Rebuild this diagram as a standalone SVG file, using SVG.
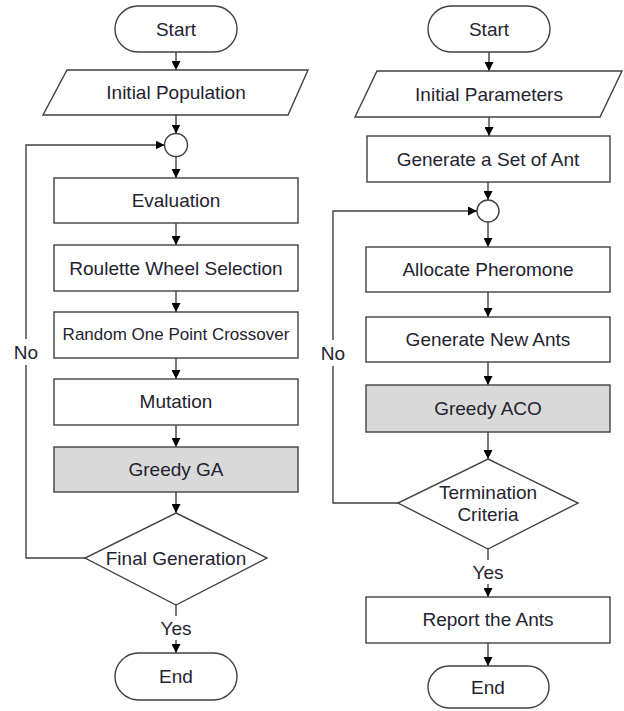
<svg xmlns="http://www.w3.org/2000/svg" width="624" height="711" viewBox="0 0 624 711">
<defs>
<marker id="ah" markerUnits="userSpaceOnUse" markerWidth="9" markerHeight="9" refX="9" refY="4.5" orient="auto">
<path d="M0,0 L9,4.5 L0,9 z" fill="#000"/>
</marker>
<style>
.s{fill:#fff;stroke:#404040;stroke-width:1.4}
.g{fill:#d9d9d9;stroke:#404040;stroke-width:1.4}
.t{font-family:"Liberation Sans",Arial,sans-serif;font-size:19px;fill:#1f2330;text-anchor:middle;dominant-baseline:central}
.c{fill:none;stroke:#404040;stroke-width:1.4}
</style>
</defs>
<rect width="624" height="711" fill="#fff"/>
<g id="connectors">
<path class="c" d="M176,52 V70" marker-end="url(#ah)"/>
<path class="c" d="M176,115 V133.5" marker-end="url(#ah)"/>
<path class="c" d="M176,156.5 V178" marker-end="url(#ah)"/>
<path class="c" d="M176,223 V245" marker-end="url(#ah)"/>
<path class="c" d="M176,291 V312" marker-end="url(#ah)"/>
<path class="c" d="M176,358 V379" marker-end="url(#ah)"/>
<path class="c" d="M176,425 V447" marker-end="url(#ah)"/>
<path class="c" d="M176,492 V513" marker-end="url(#ah)"/>
<path class="c" d="M176,605 V616"/>
<path class="c" d="M176,640 V653" marker-end="url(#ah)"/>
<path class="c" d="M85,558 H26 V365"/>
<path class="c" d="M26,339 V145 H164.5" marker-end="url(#ah)"/>
<text class="t" x="26" y="352">No</text>
<text class="t" x="176" y="628">Yes</text>
<path class="c" d="M489,52 V71" marker-end="url(#ah)"/>
<path class="c" d="M489,117 V136" marker-end="url(#ah)"/>
<path class="c" d="M488,182 V200" marker-end="url(#ah)"/>
<path class="c" d="M488,222 V247" marker-end="url(#ah)"/>
<path class="c" d="M488,292 V317" marker-end="url(#ah)"/>
<path class="c" d="M488,362 V385" marker-end="url(#ah)"/>
<path class="c" d="M488,432 V459" marker-end="url(#ah)"/>
<path class="c" d="M488,549 V560"/>
<path class="c" d="M488,584 V597" marker-end="url(#ah)"/>
<path class="c" d="M488,643 V666" marker-end="url(#ah)"/>
<path class="c" d="M398,503 H333 V366"/>
<path class="c" d="M333,340 V211 H477" marker-end="url(#ah)"/>
<text class="t" x="333" y="353">No</text>
<text class="t" x="488" y="572">Yes</text>
</g>
<g id="ga-start"><rect class="s" x="115" y="6" width="122" height="46" rx="23"/><text class="t" x="176" y="29">Start</text></g>
<g id="ga-init"><polygon class="s" points="67,70 308,70 288,115 43,115"/><text class="t" x="176" y="92">Initial Population</text></g>
<g id="ga-merge"><circle class="s" cx="176" cy="145" r="11.5"/></g>
<g id="ga-eval"><rect class="s" x="54" y="178" width="244" height="45"/><text class="t" x="176" y="200">Evaluation</text></g>
<g id="ga-select"><rect class="s" x="54" y="245" width="244" height="46"/><text class="t" x="176" y="268">Roulette Wheel Selection</text></g>
<g id="ga-cross"><rect class="s" x="54" y="312" width="244" height="46"/><text class="t" x="176" y="334" style="font-size:17px">Random One Point Crossover</text></g>
<g id="ga-mut"><rect class="s" x="54" y="379" width="244" height="46"/><text class="t" x="176" y="401">Mutation</text></g>
<g id="ga-greedy"><rect class="g" x="54" y="447" width="244" height="45"/><text class="t" x="176" y="469">Greedy GA</text></g>
<g id="ga-final"><polygon class="s" points="176,513 267,558 176,605 85,558"/><text class="t" x="176" y="558">Final Generation</text></g>
<g id="ga-end"><rect class="s" x="115" y="653" width="122" height="47" rx="23.5"/><text class="t" x="176" y="676">End</text></g>
<g id="aco-start"><rect class="s" x="428" y="6" width="122" height="46" rx="23"/><text class="t" x="489" y="29">Start</text></g>
<g id="aco-init"><polygon class="s" points="377,71 622,71 600,117 355,117"/><text class="t" x="489" y="94">Initial Parameters</text></g>
<g id="aco-gen"><rect class="s" x="367" y="136" width="243" height="46"/><text class="t" x="488" y="159">Generate a Set of Ant</text></g>
<g id="aco-merge"><circle class="s" cx="488" cy="211" r="11"/></g>
<g id="aco-alloc"><rect class="s" x="366" y="247" width="244" height="45"/><text class="t" x="488" y="269">Allocate Pheromone</text></g>
<g id="aco-new"><rect class="s" x="366" y="317" width="244" height="45"/><text class="t" x="488" y="339">Generate New Ants</text></g>
<g id="aco-greedy"><rect class="g" x="366" y="385" width="244" height="47"/><text class="t" x="488" y="408">Greedy ACO</text></g>
<g id="aco-term"><polygon class="s" points="488,459 578,503 488,549 398,503"/><text class="t" x="488" y="492">Termination</text><text class="t" x="488" y="514">Criteria</text></g>
<g id="aco-report"><rect class="s" x="366" y="597" width="244" height="46"/><text class="t" x="488" y="619">Report the Ants</text></g>
<g id="aco-end"><rect class="s" x="428" y="666" width="121" height="42" rx="21"/><text class="t" x="488" y="687">End</text></g>
</svg>
